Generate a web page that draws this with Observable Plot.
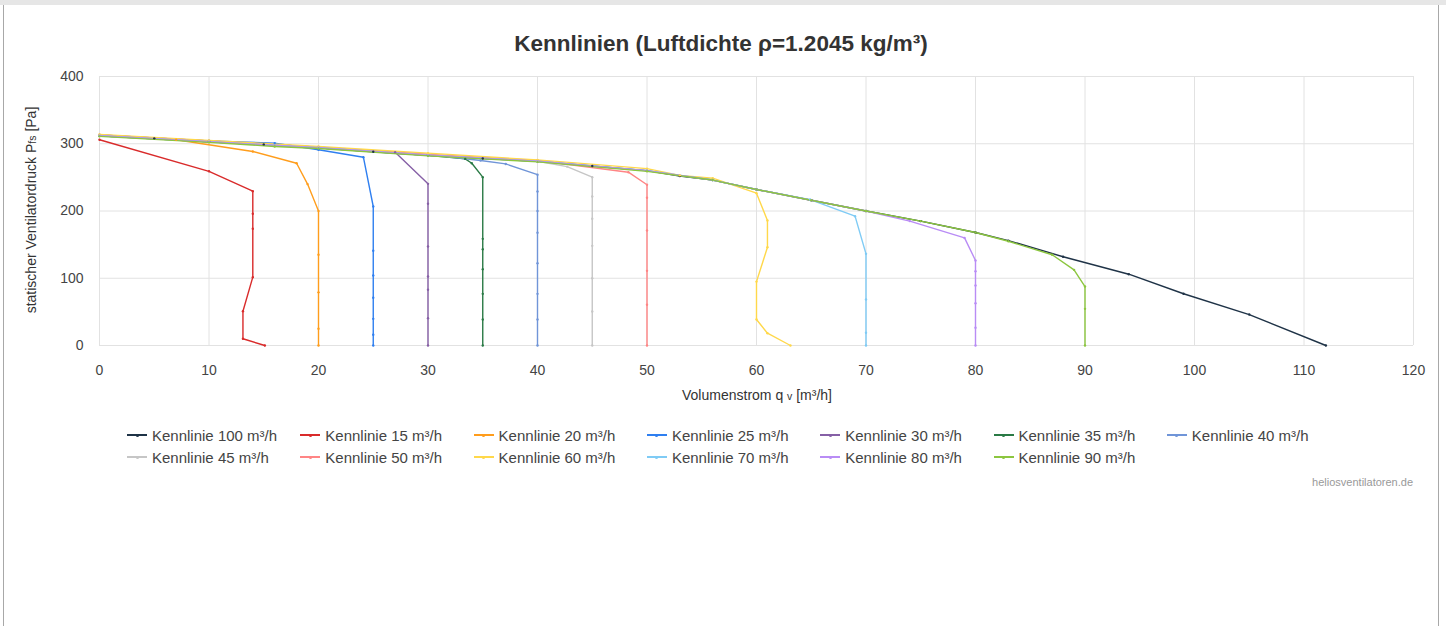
<!DOCTYPE html>
<html>
<head>
<meta charset="utf-8">
<script src="https://cdn.jsdelivr.net/npm/d3@7"></script>
<script src="https://cdn.jsdelivr.net/npm/@observablehq/plot@0.6"></script>
<style>
  html, body { margin: 0; padding: 0; background: #fff; }
  body { width: 1446px; height: 626px; overflow: hidden; position: relative; font-family: "Liberation Sans", Arial, sans-serif; }
  #topbar { position: absolute; left: 0; top: 0; width: 1446px; height: 5px; background: #e6e6e6; }
  #card { position: absolute; left: 3px; top: 5px; width: 1434px; height: 621px; border-left: 1px solid #a8a8a8; border-right: 1px solid #a8a8a8; }
  #title { position: absolute; left: 3px; width: 1436px; top: 31px; text-align: center; font-size: 22.5px; font-weight: bold; color: #333; line-height: 26px; }
  #chart { position: absolute; left: 0; top: 50px; }
  #ylabel { position: absolute; left: 31px; top: 210px; transform: translate(-50%, -50%) rotate(-90deg); white-space: nowrap; font-size: 14px; color: #333; }
  #xlabel { position: absolute; left: 757px; top: 395px; transform: translate(-50%, -50%); white-space: nowrap; font-size: 14px; color: #333; }
  .small { font-size: 10.5px; }
  .item { position: absolute; height: 18px; display: flex; align-items: center; font-size: 15px; color: #444; white-space: nowrap; }
  .sym { position: relative; width: 20px; height: 2px; margin-right: 5px; }
  .sym i { position: absolute; left: 8.5px; top: -0.5px; width: 3px; height: 3px; border-radius: 1.5px; }
  #credit { position: absolute; right: 33px; top: 476px; font-size: 11px; color: #999; }
</style>
</head>
<body>
<div id="topbar"></div>
<div id="card"></div>
<div id="title">Kennlinien (Luftdichte ρ=1.2045 kg/m³)</div>
<div id="chart"></div>
<div id="ylabel">statischer Ventilatordruck P<span class="small">fs</span> [Pa]</div>
<div id="xlabel">Volumenstrom q <span class="small">v</span> [m³/h]</div>
<div id="legend"></div>
<div id="credit">heliosventilatoren.de</div>
<script>
// ---- data (x = Volumenstrom m³/h, y = Pa) ----
const xTicks = [0, 10, 20, 30, 40, 50, 60, 70, 80, 90, 100, 110, 120];
const yTicks = [0, 100, 200, 300, 400];

const seriesNames = ["Kennlinie 100 m³/h", "Kennlinie 15 m³/h", "Kennlinie 20 m³/h", "Kennlinie 25 m³/h", "Kennlinie 30 m³/h", "Kennlinie 35 m³/h", "Kennlinie 40 m³/h",
  "Kennlinie 45 m³/h", "Kennlinie 50 m³/h", "Kennlinie 60 m³/h", "Kennlinie 70 m³/h", "Kennlinie 80 m³/h", "Kennlinie 90 m³/h"];
const seriesColors = ["#1f3347", "#d92b2b", "#ff9d1c", "#2f7ff0", "#8660a6", "#2a7a45", "#7095d8",
  "#c6c6c6", "#ff8585", "#ffd84a", "#7fcbf5", "#b98cf5", "#8cc63f"];

const k100 = [[0,312],[5,308],[10,303],[15,299],[20,294],[25,288],[30,283],[35,278],[40,274],[45,267],[50,260],[53,252],[56,246],[60,232],[65,216],[70,200],[75,185],[80,168],[83,156],[88,132],[94,106],[99,77],[105,46],[112,0]];
const k15 = [[0,306],[10,259],[14,229.5],[14,196],[14,173.5],[14,101.6],[13.1,51],[13.1,10],[15.1,0]];
const k20 = [[0,313],[7,306],[14,288.5],[18,271],[19,240],[20,200],[20,135],[20,79],[20,25],[20,0]];
const k25 = [[0,312],[10,304],[16,301],[20,291],[24.1,280],[25,206.7],[25,141],[25,104],[25,71],[25,39.6],[25,15.9],[25,0]];
const k30 = [[0,313],[10,304],[20,295],[27,287.5],[30,240.4],[30,210.7],[30,147.2],[30,102.6],[30,82.8],[30,40.6],[30,0]];
const k35 = [[0,312],[10,303],[20,294],[30,283],[33.4,277.5],[34,271],[35,250.3],[35,158.6],[35,143.2],[35,113.5],[35,76.8],[35,38.7],[35,0]];
const k40 = [[0,313],[10,304],[20,295],[30,284],[34.8,275],[37.1,270],[40,254],[40,229],[40,200],[40,167.6],[40,122.4],[40,76.8],[40,38.7],[40,0]];
const k45 = [[0,312],[10,303],[20,294],[30,284],[40,274],[42.7,266],[45,250.3],[45,221.6],[45,188.4],[45,148.2],[45,100.1],[45,50.6],[45,0]];
const k50 = [[0,313],[10,304],[20,295],[30,284],[40,275],[48.3,257.7],[50,239],[50,219.6],[50,171],[50,111],[50,60.5],[50,0]];
const k60 = [[0,314],[10,305],[20,296],[30,286],[40,276],[50,263],[53,253],[56,248.8],[60,226.5],[61,186],[61,146],[60,95],[60,38.7],[61,18.3],[63.1,0]];
const k70 = [[0,312],[10,303],[20,294],[30,283],[40,274],[50,260],[56,246],[60,232],[64.9,217],[69,192.3],[70,136.3],[70,68.4],[70,18.9],[70,0]];
const k80 = [[0,312],[10,303],[20,294],[30,283],[40,274],[50,260],[56,246],[60,232],[65,216],[70,200],[74,185],[79,160],[80,126.4],[80,110.5],[80,89.2],[80,62.9],[80,26.3],[80,0]];
const k90 = [[0,311],[10,302],[16,296],[20,293],[30,282],[40,273],[50,259],[56,246],[60,232],[65,216],[70,200],[75,185],[80,168],[83,155],[87,135],[89,112.5],[90,87.7],[90,54.5],[90,0]];

const seriesData = [k100, k15, k20, k25, k30, k35, k40, k45, k50, k60, k70, k80, k90];

// ---- table for Plot ----
const table = [];
seriesData.forEach((pts, i) => pts.forEach(([x, y]) => table.push({ s: seriesNames[i], x, y })));

const chart = Plot.plot({
  width: 1446,
  height: 370,
  marginLeft: 99,
  marginRight: 33,
  marginTop: 26,
  marginBottom: 75,
  x: { domain: [0, 120] },
  y: { domain: [0, 400] },
  color: { domain: seriesNames, range: seriesColors },
  style: { fontFamily: "Liberation Sans, Arial, sans-serif", fontSize: "14px", color: "#444", background: "transparent", overflow: "visible" },
  marks: [
    Plot.gridX(xTicks, { stroke: "#e2e2e2", strokeOpacity: 1, strokeWidth: 1 }),
    Plot.gridY(yTicks, { stroke: "#e2e2e2", strokeOpacity: 1, strokeWidth: 1 }),
    Plot.axisX(xTicks, { tickSize: 0, tickPadding: 20, label: null, fill: "#444" }),
    Plot.axisY(yTicks, { tickSize: 0, tickPadding: 16, label: null, fill: "#444" }),
    Plot.line(table, { x: "x", y: "y", z: "s", stroke: "s", strokeWidth: 1.4 }),
    Plot.dot(table, { x: "x", y: "y", fill: "s", r: 1.2 })
  ]
});
document.getElementById("chart").appendChild(chart);

// ---- legend ----
const legend = document.getElementById("legend");
seriesNames.forEach((name, i) => {
  const row = Math.floor(i / 7), col = i % 7;
  const item = document.createElement("div");
  item.className = "item";
  item.style.left = (127 + col * 173.3) + "px";
  item.style.top = (426 + row * 22) + "px";
  const sym = document.createElement("span");
  sym.className = "sym";
  sym.style.background = seriesColors[i];
  const dot = document.createElement("i");
  dot.style.background = seriesColors[i];
  sym.appendChild(dot);
  item.appendChild(sym);
  item.appendChild(document.createTextNode(name));
  legend.appendChild(item);
});
</script>
</body>
</html>
